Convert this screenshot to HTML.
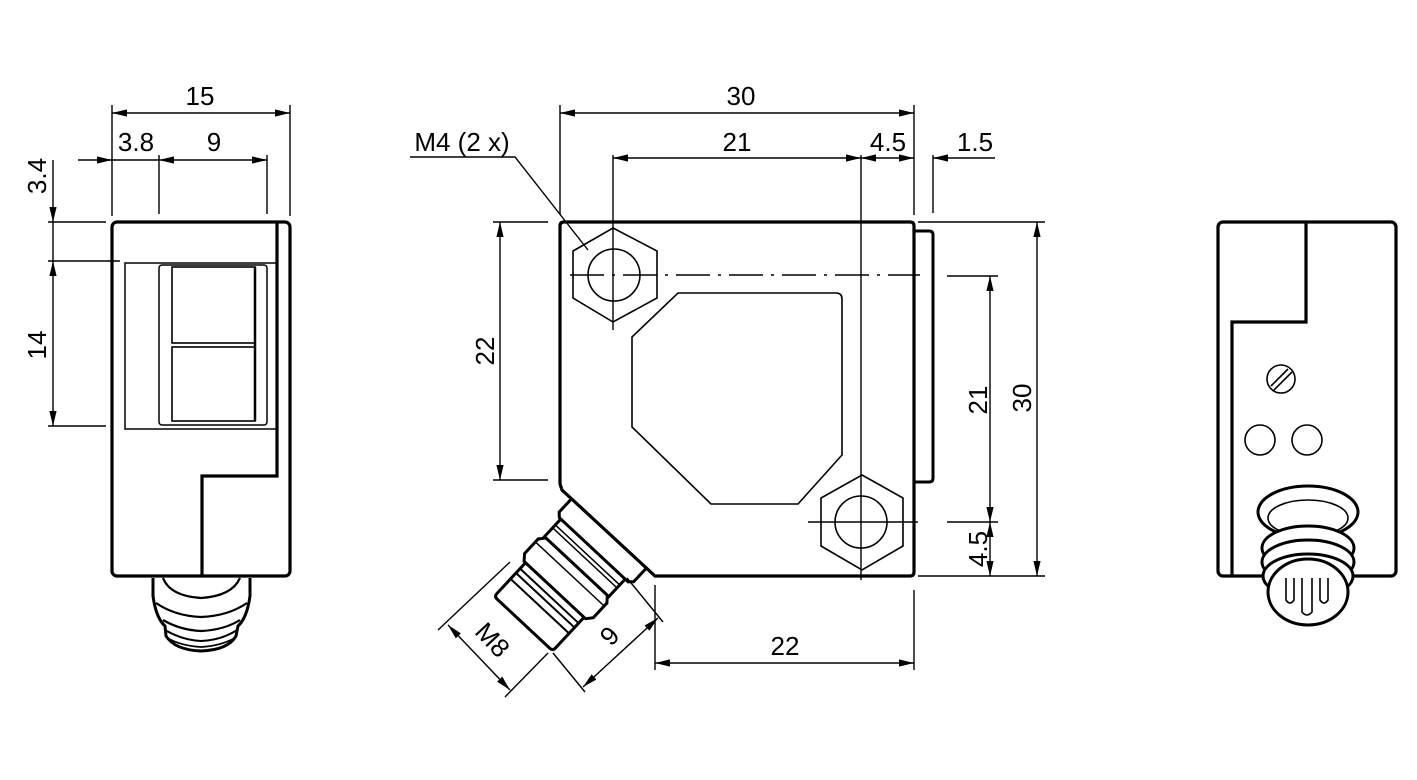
<!DOCTYPE html>
<html><head><meta charset="utf-8"><style>
html,body{margin:0;padding:0;background:#fff}
svg{display:block}
text{font-family:"Liberation Sans",sans-serif;font-size:26px;fill:#000}
</style></head><body>
<svg width="1417" height="780" viewBox="0 0 1417 780" xmlns="http://www.w3.org/2000/svg">
<defs>
<marker id="a" markerWidth="16" markerHeight="10" refX="0" refY="0" viewBox="-15 -5 16 10" orient="auto-start-reverse" markerUnits="userSpaceOnUse">
<path d="M0,0 L-15,-3.6 L-15,3.6 z" fill="#000"/>
</marker>
</defs>
<g fill="none" stroke="#000" stroke-width="1.4">
<!-- ===== LEFT VIEW ===== -->
<rect x="112" y="222" width="178" height="354" rx="5" stroke-width="3.2"/>
<path d="M277,222 V476 H202 V576" stroke-width="3.2"/>
<rect x="125" y="263" width="152" height="166" stroke-width="1.5"/>
<rect x="159" y="265" width="108" height="160" rx="3" stroke-width="1.5"/>
<rect x="172" y="267" width="83" height="76" stroke-width="1.6"/>
<rect x="172" y="347" width="83" height="74" stroke-width="1.6"/>
<path d="M255,267 V421" stroke-width="2.5"/>
<!-- connector bottom -->
<path d="M153,578 V596 Q156,618 165,626 L166,636 Q175,650 201,651 Q228,650 236,636 L238,626 Q247,618 250,596 V578" stroke-width="3"/>
<path d="M163,578 Q170,596 201,598 Q232,596 240,578" stroke-width="2.2"/>
<path d="M156,603 Q175,616 201,617 Q228,616 247,603" stroke-width="2.2"/>
<path d="M163,620 Q180,630 201,631 Q224,630 240,620" stroke-width="2.2"/>
<path d="M165,630 Q182,640 201,641 Q222,640 237,630" stroke-width="2"/>
<path d="M167,638 Q182,646 201,647 Q220,646 235,638" stroke-width="1.8"/>
<!-- left dims -->
<path d="M112,105 V216 M290,105 V216 M159,155 V214 M267,155 V214"/>
<path d="M112,113 H290" marker-start="url(#a)" marker-end="url(#a)"/>
<path d="M78,160 H112" marker-end="url(#a)"/>
<path d="M112,160 H159"/>
<path d="M159,160 H267" marker-start="url(#a)" marker-end="url(#a)"/>
<path d="M48,222 H106 M48,261 H120 M48,426 H106"/>
<path d="M53,160 V222" marker-end="url(#a)"/>
<path d="M53,261 V426" marker-start="url(#a)" marker-end="url(#a)"/>
<path d="M53,222 V261"/>

<!-- ===== MIDDLE VIEW ===== -->
<path d="M564,222 H910 Q914,222 914,226 V572 Q914,576 910,576 H655 L562,490 L560,484 V226 Q560,222 564,222 Z" stroke-width="3.2"/>
<path d="M914,231 H929 Q933,231 933,235 V478 Q933,482 929,482 H914" stroke-width="3"/>
<path d="M678,293 H836 Q842,293 842,299 V455 L798,504 H711 L632,427 V337 Z" stroke-width="1.6"/>
<polygon points="613,228 657,251 657,298 613,322 573,298 573,251" stroke-width="1.6"/>
<circle cx="614" cy="275" r="26" stroke-width="1.6"/>
<polygon points="862,475 903,498 903,546 862,570 821,546 821,498" stroke-width="1.6"/>
<circle cx="861" cy="522" r="26" stroke-width="1.6"/>
<path d="M570,275 H920" stroke-dasharray="34,8,3,8"/>
<path d="M613,155 V330 M861,155 V580 M808,522 H918"/>
<!-- connector angled -->
<g transform="translate(608,533) rotate(43)" stroke-width="3">
<path d="M-50,0 V18 L-46,22 H48 L52,18 V0"/>
<path d="M-44,22 V46 H44 V22"/>
<path d="M-44,30 H44 M-44,34 H44" stroke-width="1.5"/>
<path d="M-42,46 L-47,52 V72 L-42,78 H42 L47,72 V52 L42,46"/>
<path d="M-47,56 H47" stroke-width="1.5"/>
<path d="M-40,78 V120 Q-40,124 -36,124 H36 Q40,124 40,120 V78"/>
<path d="M-40,86 H40 M-40,92 H40 M-40,100 H40" stroke-width="2"/>
</g>
<!-- middle dims -->
<path d="M560,105 V215 M914,105 V215 M933,155 V213"/>
<path d="M560,113 H914" marker-start="url(#a)" marker-end="url(#a)"/>
<path d="M613,158 H861" marker-start="url(#a)" marker-end="url(#a)"/>
<path d="M861,158 H914" marker-start="url(#a)" marker-end="url(#a)"/>
<path d="M995,158 H933" marker-end="url(#a)"/>
<path d="M410,157 H515 L588,250" stroke-width="1.4"/>
<path d="M493,222 H548 M493,480 H548"/>
<path d="M500,222 V480" marker-start="url(#a)" marker-end="url(#a)"/>
<path d="M918,222 H1045 M918,576 H1045 M947,276 H998 M947,522 H998"/>
<path d="M1037,222 V576" marker-start="url(#a)" marker-end="url(#a)"/>
<path d="M990,276 V522" marker-start="url(#a)" marker-end="url(#a)"/>
<path d="M990,522 V576" marker-start="url(#a)" marker-end="url(#a)"/>
<path d="M655,585 V670 M914,590 V670"/>
<path d="M655,663 H914" marker-start="url(#a)" marker-end="url(#a)"/>
<!-- M8 & 9 dims -->
<path d="M438,630 L510,562 M505,697 L548,653"/>
<path d="M448,625 L510,690" marker-start="url(#a)" marker-end="url(#a)"/>
<path d="M553,653 L585,692 M627,578 L663,622"/>
<path d="M583,687 L658,618" marker-start="url(#a)" marker-end="url(#a)"/>

<!-- ===== RIGHT VIEW ===== -->
<rect x="1218" y="222" width="178" height="354" rx="5" stroke-width="3.2"/>
<path d="M1306,222 V322 H1232 V576" stroke-width="3.2"/>
<circle cx="1281" cy="379" r="14" stroke-width="1.6"/>
<path d="M1271,386 L1288,369 M1274,390 L1292,372" stroke-width="1.6"/>
<circle cx="1260" cy="440" r="15" stroke-width="1.6"/>
<circle cx="1307" cy="440" r="15" stroke-width="1.6"/>
<g fill="#fff" stroke-width="3">
<ellipse cx="1308" cy="512" rx="50" ry="26"/>
<ellipse cx="1308" cy="518" rx="40" ry="18" stroke-width="1.6"/>
<ellipse cx="1308" cy="548" rx="46" ry="22"/>
<ellipse cx="1308" cy="562" rx="46" ry="22"/>
<ellipse cx="1308" cy="576" rx="45" ry="22"/>
<ellipse cx="1308" cy="592" rx="40" ry="33"/>
</g>
<path d="M1286,578 V600 Q1290,606 1294,600 V578 M1302,578 V612 Q1307,618 1312,612 V578 M1320,578 V600 Q1324,606 1328,600 V578" stroke-width="1.6"/>
</g>

<!-- texts -->
<text x="200" y="105" text-anchor="middle">15</text>
<text x="136" y="151" text-anchor="middle">3.8</text>
<text x="214" y="151" text-anchor="middle">9</text>
<text transform="translate(46,176) rotate(-90)" text-anchor="middle">3.4</text>
<text transform="translate(46,345) rotate(-90)" text-anchor="middle">14</text>
<text x="741" y="105" text-anchor="middle">30</text>
<text x="737" y="151" text-anchor="middle">21</text>
<text x="888" y="151" text-anchor="middle">4.5</text>
<text x="975" y="151" text-anchor="middle">1.5</text>
<text x="462" y="151" text-anchor="middle">M4 (2 x)</text>
<text transform="translate(494,351) rotate(-90)" text-anchor="middle">22</text>
<text transform="translate(1031,398) rotate(-90)" text-anchor="middle">30</text>
<text transform="translate(987,400) rotate(-90)" text-anchor="middle">21</text>
<text transform="translate(987,549) rotate(-90)" text-anchor="middle">4.5</text>
<text x="785" y="655" text-anchor="middle">22</text>
<text transform="translate(486,646) rotate(47)" text-anchor="middle">M8</text>
<text transform="translate(616,642) rotate(-47)" text-anchor="middle">9</text>
</svg>
</body></html>
